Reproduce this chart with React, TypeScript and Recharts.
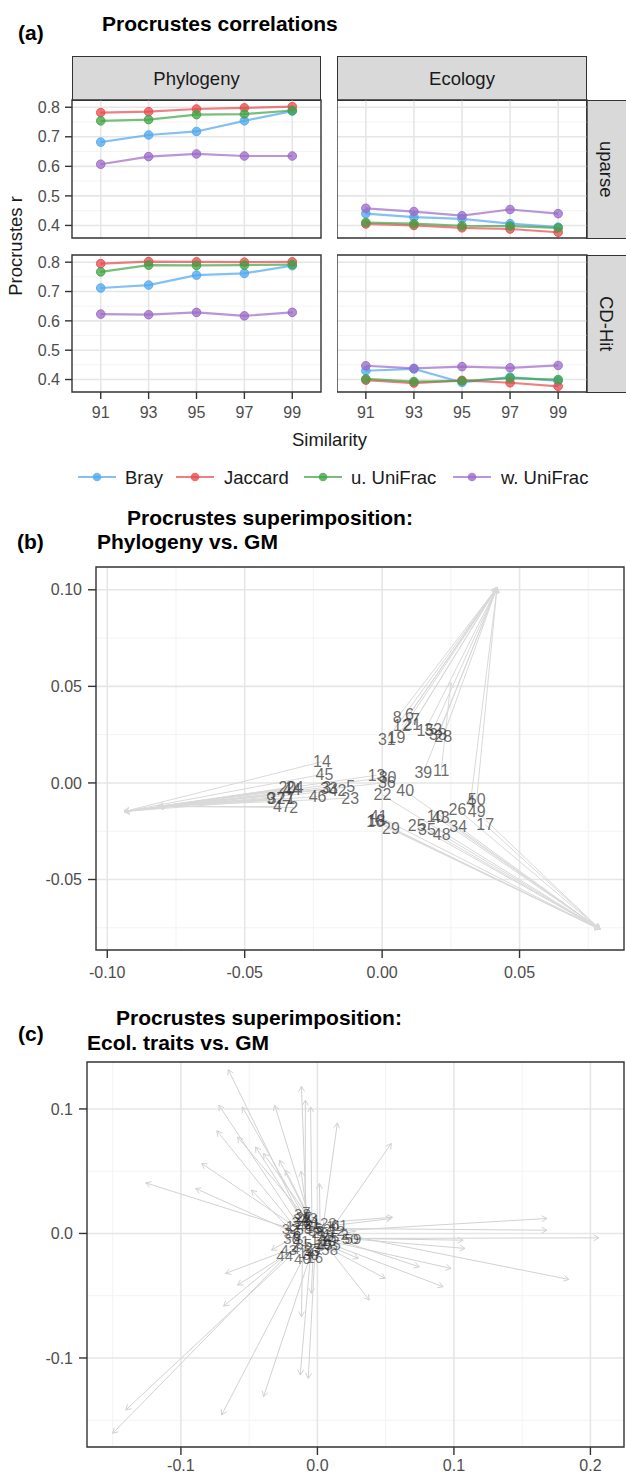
import React from "react";
import {
  LineChart, Line, XAxis, YAxis, CartesianGrid, ReferenceArea,
  ReferenceLine, ScatterChart, Scatter,
} from "recharts";

const FONT = '"Liberation Sans", Arial, Helvetica, sans-serif';

// ---- (a) Procrustes correlations ----
const similarity = [91, 93, 95, 97, 99];
const methods = ["Bray", "Jaccard", "u. UniFrac", "w. UniFrac"];
const methodKeys = ["bray", "jaccard", "uuni", "wuni"];
const methodColors = ["#4ea7ef", "#e9484d", "#3da443", "#9a69c8"];
const rTicks = [0.4, 0.5, 0.6, 0.7, 0.8];
const rMinor = [0.45, 0.55, 0.65, 0.75];
const rDomain = [0.3575, 0.8245];
const simDomain = [89.8, 100.2];

const phyUparseBray = [0.682, 0.706, 0.718, 0.754, 0.787];
const phyUparseJaccard = [0.782, 0.785, 0.794, 0.798, 0.802];
const phyUparseUUni = [0.754, 0.758, 0.775, 0.777, 0.789];
const phyUparseWUni = [0.607, 0.633, 0.642, 0.635, 0.635];

const ecoUparseBray = [0.44, 0.428, 0.422, 0.406, 0.394];
const ecoUparseJaccard = [0.405, 0.4, 0.392, 0.388, 0.377];
const ecoUparseUUni = [0.41, 0.406, 0.399, 0.398, 0.392];
const ecoUparseWUni = [0.458, 0.447, 0.433, 0.454, 0.44];

const phyCdhitBray = [0.712, 0.722, 0.756, 0.762, 0.788];
const phyCdhitJaccard = [0.795, 0.802, 0.801, 0.8, 0.801];
const phyCdhitUUni = [0.767, 0.79, 0.789, 0.79, 0.792];
const phyCdhitWUni = [0.623, 0.621, 0.629, 0.617, 0.629];

const ecoCdhitBray = [0.43, 0.436, 0.39, 0.408, 0.395];
const ecoCdhitJaccard = [0.398, 0.388, 0.397, 0.389, 0.377];
const ecoCdhitUUni = [0.402, 0.393, 0.395, 0.405, 0.4];
const ecoCdhitWUni = [0.447, 0.438, 0.444, 0.44, 0.448];

// ---- (b) Phylogeny vs. GM ----
const phyloLabels = [
  "8", "6", "7", "12", "21", "15", "32", "38", "28", "31", "19",
  "14", "45", "13", "30", "36", "22", "40", "39", "11",
  "20", "24", "44", "9", "37", "27", "1", "47", "2", "3", "33", "42", "5", "23", "46",
  "50", "4", "26", "49", "17", "34", "48", "43", "10", "35", "25", "41", "16", "18", "29",
];
const phyloX = [
  0.0055, 0.0099, 0.0121, 0.0072, 0.011, 0.0157, 0.0186, 0.0203, 0.0222, 0.0017, 0.0052,
  -0.0219, -0.021, -0.002, 0.002, 0.0017, 0.0001, 0.0084, 0.015, 0.0215,
  -0.0345, -0.0318, -0.0328, -0.0405, -0.0385, -0.0352, -0.0333, -0.0365, -0.0322, -0.0202, -0.0193, -0.0162, -0.0114, -0.0116, -0.0235,
  0.0344, 0.0322, 0.0274, 0.0344, 0.0375, 0.0277, 0.0217, 0.0213, 0.0195, 0.0163, 0.0126, -0.0013, -0.0025, -0.002, 0.0032,
];
const phyloY = [
  0.0337, 0.0356, 0.0328, 0.0298, 0.0302, 0.0273, 0.0277, 0.025, 0.024, 0.0225, 0.0233,
  0.011, 0.0046, 0.004, 0.003, 0.0002, -0.0062, -0.0041, 0.0055, 0.0063,
  -0.0025, -0.0026, -0.0032, -0.0079, -0.0083, -0.008, -0.008, -0.0122, -0.0127, -0.0022, -0.003, -0.0038, -0.0019, -0.0079, -0.007,
  -0.0088, -0.0096, -0.0136, -0.0148, -0.0216, -0.0225, -0.0268, -0.018, -0.0175, -0.0239, -0.0222, -0.0174, -0.02, -0.0195, -0.0234,
];
const phyloEndX = [
  0.0418, 0.0418, 0.0418, 0.0418, 0.0418, 0.0418, 0.0418, 0.0418, 0.0418, 0.0418, 0.0418,
  -0.0939, -0.0939, -0.0939, -0.0939, -0.0939, 0.0793, 0.0793, 0.0418, 0.025,
  -0.0816, -0.0816, -0.0816, -0.0816, -0.0816, -0.0816, -0.0816, -0.0816, -0.0816, -0.0939, -0.0939, -0.0939, -0.0816, -0.0816, -0.0939,
  0.0418, 0.0418, 0.0793, 0.0793, 0.0793, 0.0793, 0.0793, 0.0793, 0.0793, 0.0793, 0.0793, 0.0793, 0.0793, 0.0793, 0.0793,
];
const phyloEndY = [
  0.1012, 0.1012, 0.1012, 0.1012, 0.1012, 0.1012, 0.1012, 0.1012, 0.1012, 0.1012, 0.1012,
  -0.0148, -0.0148, -0.0148, -0.0148, -0.0148, -0.0758, -0.0758, 0.1012, 0.052,
  -0.0122, -0.0122, -0.0122, -0.0122, -0.0122, -0.0122, -0.0122, -0.0122, -0.0122, -0.0148, -0.0148, -0.0148, -0.0122, -0.0122, -0.0148,
  0.1012, 0.1012, -0.0758, -0.0758, -0.0758, -0.0758, -0.0758, -0.0758, -0.0758, -0.0758, -0.0758, -0.0758, -0.0758, -0.0758, -0.0758,
];

// ---- (c) Ecol. traits vs. GM ----
const ecolLabels = [
  "34", "9", "21", "3", "27", "13", "48", "52", "11", "17", "32", "5", "26", "38", "8", "24",
  "15", "39", "6", "20", "61", "12", "1", "59", "50", "45", "2", "19", "55", "23", "47", "58",
  "43", "4", "44", "36", "40", "29", "30", "16", "53", "14", "35", "41", "7", "10", "18", "22",
];
const ecolX = [
  -0.012, -0.008, -0.004, -0.016, -0.01, -0.006, -0.009, 0.004, 0.012, -0.017, -0.02, -0.013, -0.018, -0.011, -0.007, -0.005,
  -0.003, -0.001, -0.015, 0.002, 0.016, 0.014, 0.012, 0.026, 0.024, 0.01, 0.02, 0.008, 0.011, 0.006, 0.005, 0.009,
  -0.021, -0.016, -0.024, -0.019, -0.011, -0.003, -0.005, -0.002, -0.004, -0.008, -0.01, -0.012, -0.008, 0.004, 0.001, 0.008,
];
const ecolY = [
  0.012, 0.01, 0.008, 0.01, 0.014, 0.013, 0.006, 0.004, 0.006, 0.006, 0.004, 0.003, 0.001, 0.016, 0.004, 0.011,
  0.005, 0.002, -0.002, 0.001, 0.007, 0.002, 0.004, -0.004, -0.004, -0.003, -0.001, -0.006, -0.009, -0.002, -0.01, -0.013,
  -0.013, -0.012, -0.018, -0.004, -0.02, -0.011, -0.017, -0.019, -0.014, -0.015, -0.008, -0.006, 0.018, -0.008, -0.005, 0.009,
];
const ecolEndX = [
  -0.0653, -0.0117, -0.005, -0.0722, -0.055, -0.0313, -0.0088, 0.0146, 0.0541, -0.0737, -0.1258, -0.0848, -0.0892, -0.0585, -0.0453, -0.0395,
  -0.0278, -0.0234, -0.0483, 0.0015, 0.0541, 0.1681, 0.1681, 0.2062, 0.1067, 0.1081, 0.1842, 0.0979, 0.0921, 0.0746, 0.0497, 0.038,
  -0.0673, -0.0585, -0.0687, -0.0336, -0.0117, -0.0044, -0.0126, -0.0067, -0.0395, -0.0702, -0.1404, -0.15, -0.012, 0.03, 0.028, 0.055,
];
const ecolEndY = [
  0.1316, 0.1182, 0.1016, 0.103, 0.1016, 0.103, 0.107, 0.0888, 0.0722, 0.0824, 0.0406, 0.0562, 0.0361, 0.0775, 0.0695, 0.0642,
  0.0588, 0.0508, 0.0348, 0.0401, 0.012, 0.012, 0.0026, -0.0035, -0.0054, -0.012, -0.0369, -0.0281, -0.0428, -0.0268, -0.0361, -0.0535,
  -0.0321, -0.0415, -0.0583, -0.0134, -0.0669, -0.0482, -0.1137, -0.1164, -0.1311, -0.1458, -0.1418, -0.1605, 0.05, -0.02, 0.002, 0.013,
];

const rowsOf = (b: number[], j: number[], u: number[], w: number[]) =>
  similarity.map((s, i) => ({ sim: s, bray: b[i], jaccard: j[i], uuni: u[i], wuni: w[i] }));

const tickStyle = { fontSize: 16, fill: "#4d4d4d", fontFamily: FONT };
const tickLineStyle = { stroke: "#333333", strokeWidth: 1.4 };

function Txt({ x, y, size, bold, children, center, color }: any) {
  return (
    <div style={{
      position: "absolute", left: x, top: y - size / 2, fontSize: size, lineHeight: `${size}px`,
      fontWeight: bold ? 700 : 400, whiteSpace: "nowrap", color: color || "#000",
      transform: center ? "translateX(-50%)" : undefined,
    }}>{children}</div>
  );
}

function Strip({ left, top, width, height, label, vertical }: any) {
  return (
    <div style={{
      position: "absolute", left, top, width, height, boxSizing: "border-box",
      background: "#d9d9d9", border: "1.4px solid #333", display: "flex",
      alignItems: "center", justifyContent: vertical ? "flex-start" : "center",
      paddingLeft: vertical ? 8 : 0,
      fontSize: 18.5, color: "#1a1a1a",
    }}>
      <span style={{ writingMode: vertical ? "vertical-rl" : undefined }}>{label}</span>
    </div>
  );
}

function Facet({ data, left, top, w, h, showY, showX }: any) {
  const yW = showY ? 72 : 0;
  const xH = showX ? 36 : 0;
  return (
    <div style={{ position: "absolute", left: left - yW, top: top - 2 }}>
      <LineChart width={yW + w + 3} height={h + xH + 4} data={data}
        margin={{ top: 2, right: 3, bottom: 2, left: 0 }}>
        <CartesianGrid horizontalValues={rMinor} vertical={false} stroke="#f3f3f3" strokeWidth={1} />
        <CartesianGrid horizontalValues={rTicks} verticalValues={similarity} stroke="#e6e6e6" strokeWidth={1.6} />
        <XAxis type="number" dataKey="sim" domain={simDomain} ticks={similarity} allowDataOverflow
          hide={!showX} height={xH} axisLine={false} tickSize={7} tickMargin={8}
          tick={tickStyle} tickLine={tickLineStyle} />
        <YAxis type="number" domain={rDomain} ticks={rTicks} allowDataOverflow hide={!showY}
          width={yW} axisLine={false} tickSize={7} tickMargin={5} tick={tickStyle}
          tickLine={tickLineStyle} tickFormatter={(v: number) => v.toFixed(1)} />
        {methodKeys.map((k, i) => (
          <Line key={k} dataKey={k} stroke={methodColors[i]} strokeOpacity={0.7} strokeWidth={2.2}
            dot={{ r: 4.3, fill: methodColors[i], fillOpacity: 0.75, stroke: methodColors[i], strokeOpacity: 0.85, strokeWidth: 1 }}
            activeDot={false} isAnimationActive={false} />
        ))}
        <ReferenceArea x1={simDomain[0]} x2={simDomain[1]} y1={rDomain[0]} y2={rDomain[1]}
          fill="none" stroke="#333333" strokeWidth={1.4} ifOverflow="visible" />
      </LineChart>
    </div>
  );
}

function arrowShape(color: string) {
  return (p: any) => {
    const { x1, y1, x2, y2 } = p;
    const a = Math.atan2(y2 - y1, x2 - x1);
    const len = 6;
    const s = Math.PI / 6;
    const ax = x2 - len * Math.cos(a - s), ay = y2 - len * Math.sin(a - s);
    const bx = x2 - len * Math.cos(a + s), by = y2 - len * Math.sin(a + s);
    return (
      <g>
        <line x1={x1} y1={y1} x2={x2} y2={y2} stroke={color} strokeWidth={1} />
        <polyline points={`${ax},${ay} ${x2},${y2} ${bx},${by}`} fill="none" stroke={color} strokeWidth={1} />
      </g>
    );
  };
}

function labelShape(size: number, fill: string, opacity: number) {
  return (p: any) => (
    <text x={p.cx} y={p.cy} textAnchor="middle" dominantBaseline="central"
      fill={fill} fillOpacity={opacity} style={{ fontFamily: FONT, fontSize: size }}>{p.payload.label}</text>
  );
}

function Superimposition({ top, labels, xs, ys, endX, endY, xDomain, yDomain, xTicks, yTicks,
  xMinor, yMinor, digits, yW, plotH, xH, xMargin, labelSize, labelFill, labelOpacity, arrowColor }: any) {
  const pts = labels.map((l: string, i: number) => ({ label: l, x: xs[i], y: ys[i] }));
  const fmt = (v: number) => v.toFixed(digits);
  return (
    <div style={{ position: "absolute", left: 0, top: top - 2 }}>
      <ScatterChart width={626} height={plotH + xH + 2} margin={{ top: 2, right: 2, bottom: 0, left: 0 }}>
        <CartesianGrid horizontalValues={yMinor} verticalValues={xMinor} stroke="#f3f3f3" strokeWidth={1} />
        <CartesianGrid horizontalValues={yTicks} verticalValues={xTicks} stroke="#e6e6e6" strokeWidth={1.6} />
        <XAxis type="number" dataKey="x" domain={xDomain} ticks={xTicks} allowDataOverflow height={xH}
          axisLine={false} tickSize={8} tickMargin={xMargin} tick={tickStyle} tickLine={tickLineStyle}
          tickFormatter={fmt} />
        <YAxis type="number" dataKey="y" domain={yDomain} ticks={yTicks} allowDataOverflow width={yW}
          axisLine={false} tickSize={8} tickMargin={6} tick={tickStyle} tickLine={tickLineStyle}
          tickFormatter={fmt} />
        {labels.map((l: string, i: number) => (
          <ReferenceLine key={`a${i}`} segment={[{ x: xs[i], y: ys[i] }, { x: endX[i], y: endY[i] }]}
            shape={arrowShape(arrowColor)} ifOverflow="visible" />
        ))}
        <Scatter data={pts} shape={labelShape(labelSize, labelFill, labelOpacity)} isAnimationActive={false} />
        <ReferenceArea x1={xDomain[0]} x2={xDomain[1]} y1={yDomain[0]} y2={yDomain[1]}
          fill="none" stroke="#333333" strokeWidth={1.4} ifOverflow="visible" />
      </ScatterChart>
    </div>
  );
}

const legendKeyX = [77, 175, 303, 452];
const legendTextX = [125, 224, 351, 501];

export default function App() {
  return (
    <div style={{
      position: "absolute", left: 0, top: 0, width: 626, height: 1478, overflow: "hidden",
      background: "#fff", fontFamily: FONT,
    }}>
      {/* (a) */}
      <Txt x={18} y={32} size={21} bold>(a)</Txt>
      <Txt x={102} y={23} size={21} bold>Procrustes correlations</Txt>
      <Strip left={72} top={56} width={249} height={45} label="Phylogeny" />
      <Strip left={337} top={56} width={250} height={45} label="Ecology" />
      <Strip left={586} top={100} width={46} height={139} label="uparse" vertical />
      <Strip left={586} top={255} width={46} height={138} label="CD-Hit" vertical />

      <Facet data={rowsOf(phyUparseBray, phyUparseJaccard, phyUparseUUni, phyUparseWUni)}
        left={72} top={100} w={249} h={138} showY showX={false} />
      <Facet data={rowsOf(ecoUparseBray, ecoUparseJaccard, ecoUparseUUni, ecoUparseWUni)}
        left={337} top={100} w={250} h={138} showY={false} showX={false} />
      <Facet data={rowsOf(phyCdhitBray, phyCdhitJaccard, phyCdhitUUni, phyCdhitWUni)}
        left={72} top={255} w={249} h={137} showY showX />
      <Facet data={rowsOf(ecoCdhitBray, ecoCdhitJaccard, ecoCdhitUUni, ecoCdhitWUni)}
        left={337} top={255} w={250} h={137} showY={false} showX />

      <div style={{
        position: "absolute", left: 15.5, top: 246, fontSize: 18.5, color: "#1a1a1a", whiteSpace: "nowrap",
        transform: "translate(-50%, -50%) rotate(-90deg)",
      }}>Procrustes r</div>
      <Txt x={329.5} y={440} size={18.5} center color="#1a1a1a">Similarity</Txt>

      {methods.map((m, i) => (
        <React.Fragment key={m}>
          <svg style={{ position: "absolute", left: legendKeyX[i], top: 467 }} width={40} height={20}>
            <line x1={1} y1={10} x2={39} y2={10} stroke={methodColors[i]} strokeOpacity={0.7} strokeWidth={2.2} />
            <circle cx={20} cy={10} r={4.3} fill={methodColors[i]} fillOpacity={0.8} />
          </svg>
          <Txt x={legendTextX[i]} y={478} size={18.5} color="#1a1a1a">{m}</Txt>
        </React.Fragment>
      ))}

      {/* (b) */}
      <Txt x={17} y={541} size={21} bold>(b)</Txt>
      <Txt x={127} y={517} size={21} bold>Procrustes superimposition:</Txt>
      <Txt x={97} y={541} size={21} bold>Phylogeny vs. GM</Txt>
      <Superimposition top={567} labels={phyloLabels} xs={phyloX} ys={phyloY} endX={phyloEndX} endY={phyloEndY}
        xDomain={[-0.1041, 0.088]} yDomain={[-0.0865, 0.1118]}
        xTicks={[-0.1, -0.05, 0, 0.05]} yTicks={[-0.05, 0, 0.05, 0.1]}
        xMinor={[-0.075, -0.025, 0.025, 0.075]} yMinor={[-0.075, -0.025, 0.025, 0.075]}
        digits={2} yW={96} plotH={383} xH={36} xMargin={9}
        labelSize={16} labelFill="#3a3a3a" labelOpacity={0.75} arrowColor="#d9d9d9" />

      {/* (c) */}
      <Txt x={18} y={1033} size={21} bold>(c)</Txt>
      <Txt x={116} y={1017} size={21} bold>Procrustes superimposition:</Txt>
      <Txt x={87} y={1042} size={21} bold>Ecol. traits vs. GM</Txt>
      <Superimposition top={1062} labels={ecolLabels} xs={ecolX} ys={ecolY} endX={ecolEndX} endY={ecolEndY}
        xDomain={[-0.1688, 0.2246]} yDomain={[-0.1715, 0.1377]}
        xTicks={[-0.1, 0, 0.1, 0.2]} yTicks={[-0.1, 0, 0.1]}
        xMinor={[-0.15, -0.05, 0.05, 0.15]} yMinor={[-0.15, -0.05, 0.05]}
        digits={1} yW={87} plotH={385} xH={30} xMargin={5}
        labelSize={15} labelFill="#222222" labelOpacity={0.6} arrowColor="#d2d2d2" />
    </div>
  );
}
